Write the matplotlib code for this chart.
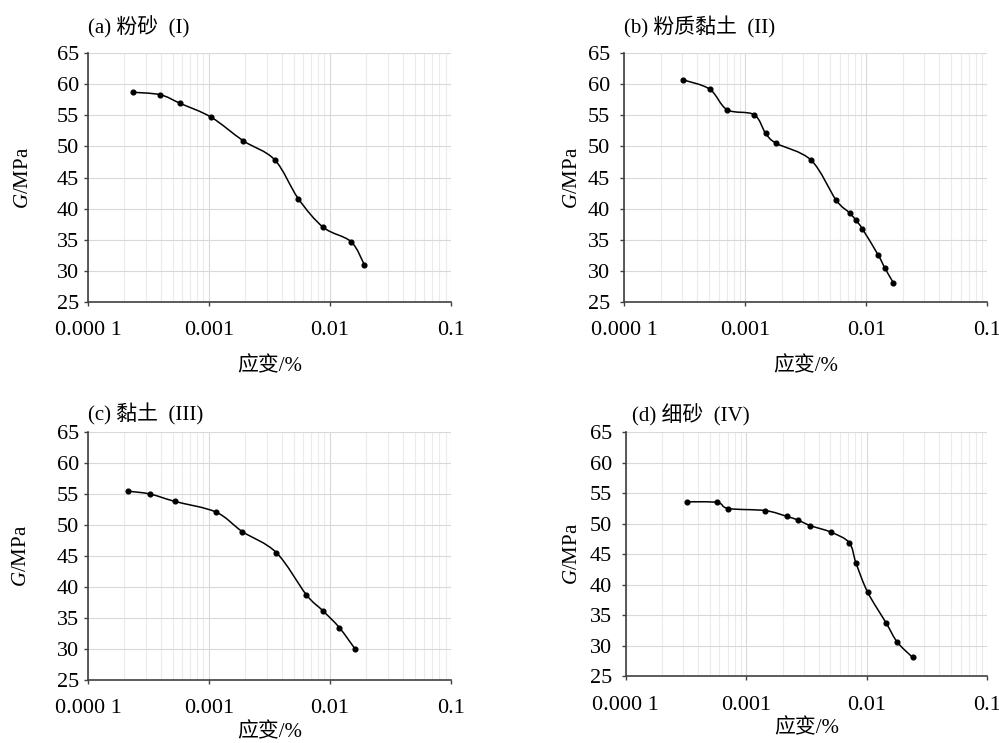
import matplotlib
matplotlib.use("Agg")
import matplotlib.pyplot as plt
from matplotlib.path import Path
from matplotlib.patches import PathPatch
from matplotlib.ticker import FixedLocator, LogLocator, NullFormatter
import numpy as np

plt.rcParams['font.family'] = ['Liberation Serif', 'Noto Sans CJK SC']
plt.rcParams['axes.unicode_minus'] = False
plt.rcParams['mathtext.fontset'] = 'custom'
plt.rcParams['mathtext.rm'] = 'Liberation Serif'
plt.rcParams['mathtext.it'] = 'Liberation Serif:italic'

# strain (%) and shear modulus G (MPa)
strain_a = [2.36e-4, 3.96e-4, 5.8e-4, 1.04e-3, 1.92e-3, 3.49e-3, 5.47e-3, 8.8e-3, 0.0149, 0.0192]
g_a = [58.7, 58.3, 56.9, 54.7, 50.9, 47.85, 41.6, 37.0, 34.7, 31.0]

strain_b = [3.05e-4, 5.07e-4, 7.06e-4, 1.18e-3, 1.47e-3, 1.80e-3, 3.49e-3, 5.61e-3,
            7.28e-3, 8.22e-3, 9.27e-3, 0.01256, 0.01426, 0.0167]
g_b = [60.7, 59.2, 55.9, 55.1, 52.1, 50.5, 47.8, 41.4, 39.3, 38.1, 36.75, 32.5, 30.4, 28.1]

strain_c = [2.15e-4, 3.25e-4, 5.2e-4, 1.14e-3, 1.88e-3, 3.6e-3, 6.37e-3, 8.75e-3, 0.01194, 0.01618]
g_c = [55.4, 54.95, 53.76, 52.04, 48.9, 45.5, 38.7, 36.1, 33.4, 29.9]

strain_d = [3.23e-4, 5.75e-4, 7.11e-4, 1.44e-3, 2.18e-3, 2.69e-3, 3.40e-3, 5.08e-3,
            7.16e-3, 8.13e-3, 0.01016, 0.01452, 0.0179, 0.0240]
g_d = [53.6, 53.5, 52.5, 52.16, 51.2, 50.6, 49.7, 48.6, 46.9, 43.6, 38.8, 33.7, 30.6, 28.1]

titles = ['(a) 粉砂  (I)', '(b) 粉质黏土  (II)', '(c) 黏土  (III)', '(d) 细砂  (IV)']
xticks = [1e-4, 1e-3, 1e-2, 1e-1]
xlabels = ['0.000 1', '0.001', '0.01', '0.1']
yticks = [25, 30, 35, 40, 45, 50, 55, 60, 65]


def smooth_path(xs, ys):
    # Excel-like smoothed line: cubic bezier through points, built in log-x space
    lx = np.log10(xs)
    y = np.asarray(ys, dtype=float)
    n = len(lx)
    verts = [(xs[0], y[0])]
    codes = [Path.MOVETO]
    for i in range(n - 1):
        i0 = max(i - 1, 0)
        i3 = min(i + 2, n - 1)
        c1x = lx[i] + (lx[i + 1] - lx[i0]) / 6
        c1y = y[i] + (y[i + 1] - y[i0]) / 6
        c2x = lx[i + 1] - (lx[i3] - lx[i]) / 6
        c2y = y[i + 1] - (y[i3] - y[i]) / 6
        verts += [(10 ** c1x, c1y), (10 ** c2x, c2y), (xs[i + 1], y[i + 1])]
        codes += [Path.CURVE4] * 3
    return Path(verts, codes)


fig = plt.figure(figsize=(9.99, 7.43), dpi=100)
boxes = [
    [0.0881, 0.5935, 0.3634, 0.3351],
    [0.6250, 0.5935, 0.3634, 0.3351],
    [0.0881, 0.0852, 0.3634, 0.3338],
    [0.6263, 0.0898, 0.3620, 0.3284],
]
series = [(strain_a, g_a), (strain_b, g_b), (strain_c, g_c), (strain_d, g_d)]
ytick_pad = [3.5, 7.5, 3.5, 7]
ylab_x = [-0.151, -0.116, -0.157, -0.120]
title_pad = [14, 14, 8, 8]
xlab_pad = [12, 12, 3, 3]
title_x = [0.0, 0.0, 0.0, 0.017]

for k, (box, (xs, ys), title) in enumerate(zip(boxes, series, titles)):
    ax = fig.add_axes(box)
    ax.set_xscale('log')
    ax.set_xlim(1e-4, 1e-1)
    ax.set_ylim(25, 65)
    ax.xaxis.set_major_locator(FixedLocator(xticks))
    ax.set_xticklabels(xlabels)
    ax.xaxis.set_minor_locator(LogLocator(base=10, subs=np.arange(2, 10)))
    ax.xaxis.set_minor_formatter(NullFormatter())
    ax.set_yticks(yticks)
    ax.grid(True, which='major', color='#d9d9d9', lw=0.8)
    ax.grid(True, which='minor', axis='x', color='#ebebeb', lw=0.8)
    ax.set_axisbelow(True)
    for s in ['top', 'right']:
        ax.spines[s].set_visible(False)
    for s in ['left', 'bottom']:
        ax.spines[s].set_color('#404040')
        ax.spines[s].set_linewidth(1.2)
    ax.tick_params(which='major', direction='out', length=3, width=1, color='#404040',
                   labelsize=16)
    ax.tick_params(axis='x', pad=11)
    ax.tick_params(axis='y', pad=ytick_pad[k])
    ax.tick_params(which='minor', length=0)

    ax.add_patch(PathPatch(smooth_path(xs, ys), facecolor='none', edgecolor='black', lw=1.1))
    ax.plot(xs, ys, 'o', color='black', ms=3.4, ls='none')

    ax.set_title(title, loc='left', fontsize=15, pad=title_pad[k], x=title_x[k])
    ax.set_ylabel('$G$/MPa', fontsize=15)
    ax.yaxis.set_label_coords(ylab_x[k], 0.5)
    ax.set_xlabel('应变/%', fontsize=15, labelpad=xlab_pad[k])

fig.savefig('out.png', dpi=100)
